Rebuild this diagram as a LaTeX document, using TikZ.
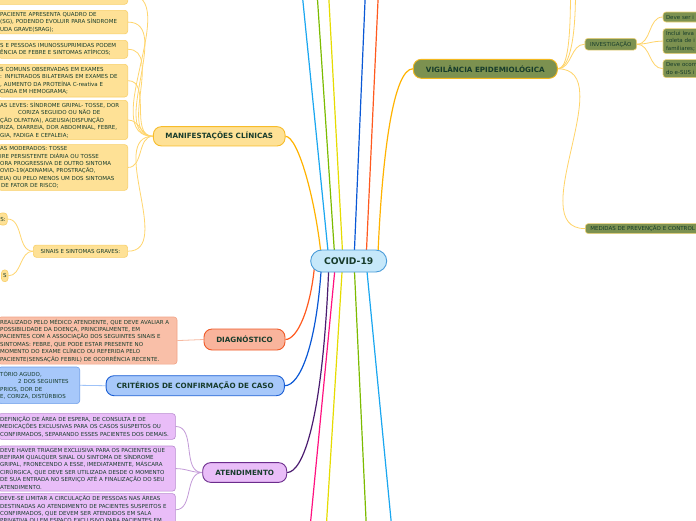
\documentclass[tikz,border=0pt]{standalone}
\usepackage{fontspec}
\setmainfont{DejaVu Sans}
\pgfdeclarelayer{bg}
\pgfsetlayers{bg,main}
\definecolor{txt}{HTML}{173C2C}
\definecolor{covfill}{HTML}{C6E8FA}\definecolor{covline}{HTML}{4A9CD9}
\definecolor{manfill}{HTML}{FEE196}\definecolor{manline}{HTML}{F7BC2A}
\definecolor{manleafline}{HTML}{F9D06A}\definecolor{manconn}{HTML}{FFD66E}
\definecolor{orangeconn}{HTML}{FFB300}
\definecolor{diagfill}{HTML}{F9B49C}\definecolor{diagline}{HTML}{F05A28}
\definecolor{dleaffill}{HTML}{F9BFA8}\definecolor{dleafline}{HTML}{F2A486}
\definecolor{dconn}{HTML}{F7B9A0}\definecolor{redconn}{HTML}{FF5A1F}
\definecolor{critfill}{HTML}{A7C8FA}\definecolor{critline}{HTML}{1A5ED4}
\definecolor{cleafline}{HTML}{6E9EEA}\definecolor{cconn}{HTML}{9EC2F8}
\definecolor{blueconn}{HTML}{0A58D6}
\definecolor{atfill}{HTML}{E9BDF8}\definecolor{atline}{HTML}{6B2C8C}
\definecolor{aleafline}{HTML}{B98AD0}\definecolor{aconn}{HTML}{C39AD8}
\definecolor{purpleconn}{HTML}{4B1C70}
\definecolor{vigfill}{HTML}{7C9150}\definecolor{vigline}{HTML}{F3B81F}
\definecolor{vleafline}{HTML}{F4D577}\definecolor{vconn}{HTML}{FFD468}
\definecolor{cyanconn}{HTML}{1AA7F0}\definecolor{greenconn}{HTML}{7CBB00}
\definecolor{yellowconn}{HTML}{E6DC00}\definecolor{pinkconn}{HTML}{FF1180}
\newcommand\leaffont{\fontsize{5.5}{7.4}\selectfont}
\newcommand\titlefont{\bfseries\fontsize{7.2}{8}\selectfont}
\tikzset{
  titlebox/.style={draw, line width=0.9pt, rounded corners=8pt, font=\titlefont, text=txt, inner sep=0pt},
  leafbox/.style={draw, line width=0.6pt, rounded corners=3pt, font=\leaffont, text=txt, align=left, inner xsep=2pt, inner ysep=2pt},
  manleaf/.style={leafbox, fill=manfill, draw=manleafline},
  dleaf/.style={leafbox, fill=dleaffill, draw=dleafline},
  cleaf/.style={leafbox, fill=critfill, draw=cleafline},
  aleaf/.style={leafbox, fill=atfill, draw=aleafline},
  vleaf/.style={leafbox, fill=vigfill, draw=vleafline},
  mainconn/.style={line width=1.2pt},
  subconn/.style={line width=0.8pt},
}
\begin{document}
\begin{tikzpicture}[x=1pt,y=1pt]
\useasboundingbox (0,0) rectangle (696,-520);
\clip (0,0) rectangle (696,-520);

% central node
\node[draw=covline, fill=covfill, line width=0.9pt, rounded corners=11pt, minimum width=76pt, minimum height=22pt, inner sep=0pt, text=txt, font=\bfseries\fontsize{9.2}{10}\selectfont] (covid) at (348.7,-261) {COVID-19};

% main topic nodes
\node[titlebox, fill=manfill, draw=manline, minimum width=131.7pt, minimum height=19.3pt] (manif) at (219.2,-136.3) {MANIFESTAÇÕES CLÍNICAS};
\node[titlebox, fill=diagfill, draw=diagline, minimum width=81pt, minimum height=21pt] (diag) at (244.5,-339.5) {DIAGNÓSTICO};
\node[titlebox, fill=critfill, draw=critline, minimum width=178.3pt, minimum height=20pt] (crit) at (195.2,-385.7) {CRITÉRIOS DE CONFIRMAÇÃO DE CASO};
\node[titlebox, fill=atfill, draw=atline, minimum width=84pt, minimum height=19.7pt] (atend) at (244.7,-472.5) {ATENDIMENTO};
\node[titlebox, fill=vigfill, draw=vigline, minimum width=144pt, minimum height=19pt] (vig) at (485.3,-68.8) {VIGILÂNCIA EPIDEMIOLÓGICA};

% manifestacoes leaves
\node[manleaf, anchor=north east, minimum width=140pt, minimum height=20pt] (m1) at (128,16) {};
\node[manleaf, anchor=north east, text width=125.5pt, minimum height=23pt] (m2) at (128,-10) {PACIENTE APRESENTA QUADRO DE\\(SG), PODENDO EVOLUIR PARA SÍNDROME\\UDA GRAVE(SRAG);};
\node[manleaf, anchor=north east, text width=125.5pt, minimum height=18pt] (m3) at (128,-40) {S E PESSOAS IMUNOSSUPRIMIDAS PODEM\\ÊNCIA DE FEBRE E SINTOMAS ATÍPICOS;};
\node[manleaf, anchor=north east, text width=125.5pt, minimum height=32.7pt] (m4) at (128,-64) {S COMUNS OBSERVADAS EM EXAMES\\: INFILTRADOS BILATERAIS EM EXAMES DE\\, AUMENTO DA PROTEÍNA C-reativa E\\CIADA EM HEMOGRAMA;};
\node[manleaf, anchor=north east, text width=125.5pt, minimum height=38pt] (m5) at (128,-100) {AS LEVES: SÍNDROME GRIPAL- TOSSE, DOR\\\hspace*{18pt}CORIZA SEGUIDO OU NÃO DE\\ÇÃO OLFATIVA), AGEUSIA(DISFUNÇÃO\\RIZA, DIARREIA, DOR ABDOMINAL, FEBRE,\\GIA, FADIGA E CEFALEIA;};
\node[manleaf, anchor=north east, text width=125.5pt, minimum height=45.7pt] (m6) at (128,-144.3) {AS MODERADOS: TOSSE\\IRE PERSISTENTE DIÁRIA OU TOSSE\\ORA PROGRESSIVA DE OUTRO SINTOMA\\OVID-19(ADINAMIA, PROSTRAÇÃO,\\EIA) OU PELO MENOS UM DOS SINTOMAS\\\hspace*{1pt}DE FATOR DE RISCO;};
\node[manleaf, align=center, minimum width=94.3pt, minimum height=12.3pt, inner sep=0pt] (sinais) at (80.5,-251.2) {SINAIS E SINTOMAS GRAVES:};
\node[manleaf, anchor=east, minimum height=12pt, inner sep=1.5pt] (s1) at (7.5,-219) {S:};
\node[manleaf, anchor=east, minimum height=11.7pt, inner sep=1.5pt] (s2) at (8.3,-275.8) {S};

% diagnostico leaf
\node[dleaf, anchor=north east, text width=174.8pt, minimum height=45pt] (d1) at (177.3,-316.7) {REALIZADO PELO MÉDICO ATENDENTE, QUE DEVE AVALIAR A\\POSSIBILIDADE DA DOENÇA, PRINCIPALMENTE, EM\\PACIENTES COM A ASSOCIAÇÃO DOS SEGUINTES SINAIS E\\SINTOMAS: FEBRE, QUE PODE ESTAR PRESENTE NO\\MOMENTO DO EXAME CLÍNICO OU REFERIDA PELO\\PACIENTE(SENSAÇÃO FEBRIL) DE OCORRÊNCIA RECENTE.};

% criterios leaf
\node[cleaf, anchor=north east, text width=77.5pt, minimum height=36.6pt] (c1) at (80,-366.7) {TÓRIO AGUDO,\\\hspace*{18pt}2 DOS SEGUINTES\\PRIOS, DOR DE\\E, CORIZA, DISTÚRBIOS};

% atendimento leaves
\node[aleaf, anchor=north east, text width=173.2pt, minimum height=25.7pt] (a1) at (175.7,-413.3) {DEFINIÇÃO DE ÁREA DE ESPERA, DE CONSULTA E DE\\MEDICAÇÕES EXCLUSIVAS PARA OS CASOS SUSPEITOS OU\\CONFIRMADOS, SEPARANDO ESSES PACIENTES DOS DEMAIS.};
\node[aleaf, anchor=north east, text width=173.2pt, minimum height=42.6pt] (a2) at (175.7,-445.7) {DEVE HAVER TRIAGEM EXCLUSIVA PARA OS PACIENTES QUE\\REFIRAM QUALQUER SINAL OU SINTOMA DE SÍNDROME\\GRIPAL, FRONECENDO A ESSE, IMEDIATAMENTE, MÁSCARA\\CIRÚRGICA, QUE DEVE SER UTILIZADA DESDE O MOMENTO\\DE SUA ENTRADA NO SERVIÇO ATÉ A FINALIZAÇÃO DO SEU\\ATENDIMENTO.};
\node[aleaf, anchor=north east, text width=173.2pt] (a3) at (175.7,-493.3) {DEVE-SE LIMITAR A CIRCULAÇÃO DE PESSOAS NAS ÁREAS\\DESTINADAS AO ATENDIMENTO DE PACIENTES SUSPEITOS E\\CONFIRMADOS, QUE DEVEM SER ATENDIDOS EM SALA\\PRIVATIVA OU EM ESPAÇO EXCLUSIVO PARA PACIENTES EM};

% vigilancia children
\node[vleaf, anchor=center, minimum width=51.7pt, minimum height=11.7pt, inner sep=0pt, align=center] (inv) at (610.8,-44.2) {INVESTIGAÇÃO};
\node[vleaf, anchor=north west, text width=120pt, minimum height=10pt, inner xsep=5pt, inner ysep=0pt] (med) at (585,-223.3) {MEDIDAS DE PREVENÇÃO E CONTROL};
\node[vleaf, anchor=north west, text width=50pt, minimum height=10pt, inner ysep=0pt, inner xsep=3pt] (i1) at (662.7,-11.7) {Deve ser i};
\node[vleaf, anchor=north west, text width=50pt, minimum height=25pt, inner xsep=3pt] (i2) at (662.7,-28.3) {Inclui leva\\coleta de i\\familiares;};
\node[vleaf, anchor=north west, text width=50pt, minimum height=18pt, inner xsep=3pt] (i3) at (662.7,-59.3) {Deve ocorr\\do e-SUS i};

% off-canvas ends
\coordinate (tC) at (302,8);
\coordinate (tG) at (317,8);
\coordinate (tY) at (328.5,8);
\coordinate (tB) at (365.4,8);
\coordinate (tR) at (378.4,8);
\coordinate (bP) at (310,-528);
\coordinate (bY) at (326.2,-528);
\coordinate (bG) at (366.4,-528);
\coordinate (bC) at (391.8,-528);
\coordinate (vu1) at (570.5,8);
\coordinate (vu2) at (575.5,8);

\begin{pgfonlayer}{bg}
\clip (0,0) rectangle (696,-520);
\fill[white] (0,0) rectangle (696,-520);
% main connectors
\draw[mainconn, cyanconn] ([xshift=-19.7pt]covid.center) -- (tC);
\draw[mainconn, greenconn] ([xshift=-13.7pt]covid.center) -- (tG);
\draw[mainconn, yellowconn] ([xshift=-5.7pt]covid.center) -- (tY);
\draw[mainconn, blueconn] ([xshift=5.3pt]covid.center) -- (tB);
\draw[mainconn, redconn] ([xshift=17.3pt]covid.center) -- (tR);
\draw[mainconn, pinkconn] ([xshift=-13pt]covid.center) -- (bP);
\draw[mainconn, yellowconn] ([xshift=-6pt]covid.center) -- (bY);
\draw[mainconn, greenconn] ([xshift=5.3pt]covid.center) -- (bG);
\draw[mainconn, cyanconn] ([xshift=17.3pt]covid.center) -- (bC);
\draw[mainconn, orangeconn] ([xshift=29pt]covid.center) .. controls (382,-150) and (394,-68.8) .. (vig.west);
\draw[mainconn, orangeconn] ([xshift=-27pt]covid.center) .. controls (316,-200) and (298,-136.3) .. (manif.east);
\draw[mainconn, redconn] ([xshift=-33.7pt]covid.center) .. controls (311,-310) and (297,-339.5) .. (diag.east);
\draw[mainconn, blueconn] ([xshift=-27pt]covid.center) .. controls (317,-345) and (300,-385.7) .. (crit.east);
\draw[mainconn, purpleconn] ([xshift=-19.7pt]covid.center) .. controls (323,-425) and (302,-472.5) .. (atend.east);

% sub connectors
\foreach \n in {m1,m2,m3,m4,m5,m6,sinais}
  \draw[subconn, manconn] (manif.west) to[out=180,in=0] (\n.east);
\foreach \n in {s1,s2}
  \draw[subconn, manconn] (sinais.west) to[out=180,in=0] (\n.east);
\draw[subconn, dconn] (diag.west) -- (d1.east);
\draw[subconn, cconn] (crit.west) -- (c1.east);
\foreach \n in {a1,a2,a3}
  \draw[subconn, aconn] (atend.west) to[out=180,in=0] (\n.east);
\draw[subconn, vconn] (vig.east) to[out=0,in=180] (inv.west);
\draw[subconn, vconn] (vig.east) to[out=0,in=180] (med.west);
\draw[subconn, vconn] (vig.east) .. controls (566,-68.8) and (570.5,-50) .. (vu1);
\draw[subconn, vconn] (vig.east) .. controls (568,-68.8) and (575.5,-45) .. (vu2);
\foreach \n in {i1,i2,i3}
  \draw[subconn, vconn] (inv.east) to[out=0,in=180] (\n.west);
\end{pgfonlayer}
\end{tikzpicture}
\end{document}
